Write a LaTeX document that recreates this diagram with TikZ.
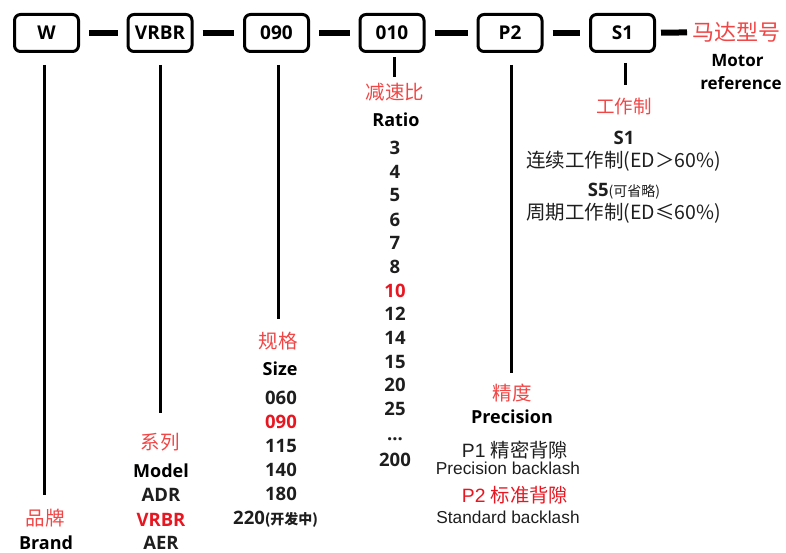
\documentclass[tikz,border=0pt]{standalone}
\usepackage{fontspec}
\setmainfont{Open Sans}
\newfontfamily\cjk{Noto Sans CJK SC}
\newfontfamily\arialf{Liberation Sans}
\definecolor{zhred}{RGB}{240,70,70}
\definecolor{hired}{RGB}{232,22,32}
\definecolor{ink}{RGB}{30,30,30}
\begin{document}
\begin{tikzpicture}[x=1pt,y=-1pt,
  codebox/.style={draw, line width=3pt, rounded corners=6pt, minimum width=64pt,
    minimum height=37pt, inner sep=0pt, font=\fontsize{19}{20}\selectfont\bfseries},
  dashbar/.style={line width=6pt, shorten <=9pt, shorten >=9pt},
  vline/.style={line width=3pt},
  lbl/.style={inner sep=0pt, anchor=base},
  zh/.style={lbl, text=zhred, font=\cjk\fontsize{19.5}{19.5}\selectfont},
  en/.style={lbl, text=black, font=\bfseries\fontsize{18}{18}\selectfont},
  mref/.style={lbl, text=black, font=\bfseries\fontsize{17}{17}\selectfont},
  num/.style={lbl, text=ink, font=\bfseries\fontsize{18.5}{18.5}\selectfont},
  numred/.style={num, text=hired},
  zhtxt/.style={lbl, text=ink, font=\cjk\fontsize{19.5}{19.5}\selectfont},
  bl/.style={lbl, text=ink, font=\arialf\fontsize{17.3}{17.3}\selectfont},
  pl/.style={lbl, text=ink, font=\arialf\fontsize{19.3}{19.3}\selectfont},
  sline/.style={lbl, text=ink, font=\fontsize{18.5}{18.5}\selectfont\bfseries},
]
\useasboundingbox (0,0) rectangle (786,553);

% code boxes
\node[codebox] (w)    at (46.5,33) {W};
\node[codebox] (vrbr) at (160,33)  {VRBR};
\node[codebox] (s090) at (276.5,33) {090};
\node[codebox] (r010) at (392,33)  {010};
\node[codebox] (p2)   at (510,33)  {P2};
\node[codebox] (s1)   at (622.5,33) {S1};
\node[zh, anchor=west, font=\cjk\fontsize{22}{22}\selectfont] (motzh) at (692,32) {马达型号};

% dashes
\draw[dashbar] (w) -- (vrbr);
\draw[dashbar] (vrbr) -- (s090);
\draw[dashbar] (s090) -- (r010);
\draw[dashbar] (r010) -- (p2);
\draw[dashbar] (p2) -- (s1);
\draw[dashbar, shorten <=5pt, shorten >=5pt] (s1) -- (motzh);

% line end points
\coordinate (wend) at (44,495);
\coordinate (vend) at (160,413);
\coordinate (send) at (278,319);
\coordinate (rend) at (394,77);
\coordinate (pend) at (511,373);
\coordinate (tend) at (625,85);

\draw[vline, shorten <=12pt] (wend |- w.south) -- (wend);
\draw[vline, shorten <=12pt] (vend |- vrbr.south) -- (vend);
\draw[vline, shorten <=12pt] (send |- s090.south) -- (send);
\draw[vline, shorten <=4pt] (rend |- r010.south) -- (rend);
\draw[vline, shorten <=12pt] (pend |- p2.south) -- (pend);
\draw[vline, shorten <=10pt] (tend |- s1.south) -- (tend);

% motor reference
\node[mref] (mot1) at (737.5,67) {Motor};
\node[mref] (mot2) at (741,90) {reference};

% brand
\node[zh] (brandzh) at (45,525) {品牌};
\node[en] (brand) at (46,549) {Brand};

% model
\node[zh] (modelzh) at (160,449) {系列};
\node[en] (model) at (161,477) {Model};
\node[num] (adr) at (161,501) {ADR};
\node[numred] (vr) at (161,526) {VRBR};
\node[num] (aer) at (161,549.5) {AER};

% size
\node[zh] (sizezh) at (278,348) {规格};
\node[en] (size) at (280,375) {Size};
\node[num] (z060) at (281,404) {060};
\node[numred] (z090) at (281,428) {090};
\node[num] (z115) at (281,452) {115};
\node[num] (z140) at (281,476) {140};
\node[num] (z180) at (281,500) {180};
\node[num, anchor=base west] (z220) at (233,524) {220{\cjk\bfseries\fontsize{14}{14}\selectfont (开发中)}};

% ratio
\node[zh] (ratiozh) at (395,100) {减速比};
\node[en] (ratio) at (396,127) {Ratio};
\foreach \v/\y in {3/155,4/178.5,5/202,6/226,7/249.5,8/273,12/320,14/344,15/368,20/391,25/415,200/466}
  \node[num] (ratio\v) at (395,\y) {\v};
\node[numred] (ratio10) at (395,297) {10};
\node[num] (ratiodots) at (395,440) {...};

% precision
\node[zh] (preczh) at (512,400) {精度};
\node[en] (prec) at (512,423) {Precision};
\node[pl] (p1) at (515,457) {P1 {\cjk 精密背隙}};
\node[bl] (p1e) at (508,474) {Precision backlash};
\node[pl, text=hired] (p2l) at (515,502) {P2 {\cjk 标准背隙}};
\node[bl] (p2e) at (508,523) {Standard backlash};

% duty
\node[zh, font=\cjk\fontsize{18.5}{18.5}\selectfont] (dutyzh) at (624,114) {工作制};
\node[sline] (d1) at (624,145) {S1};
\node[zhtxt] (d1t) at (623.5,168) {连续工作制(ED＞60\%)};
\node[sline] (d5) at (624,197) {S5{\cjk\mdseries\fontsize{14}{14}\selectfont (可省略)}};
\node[zhtxt] (d5t) at (623.5,220) {周期工作制(ED≤60\%)};
\end{tikzpicture}
\end{document}
